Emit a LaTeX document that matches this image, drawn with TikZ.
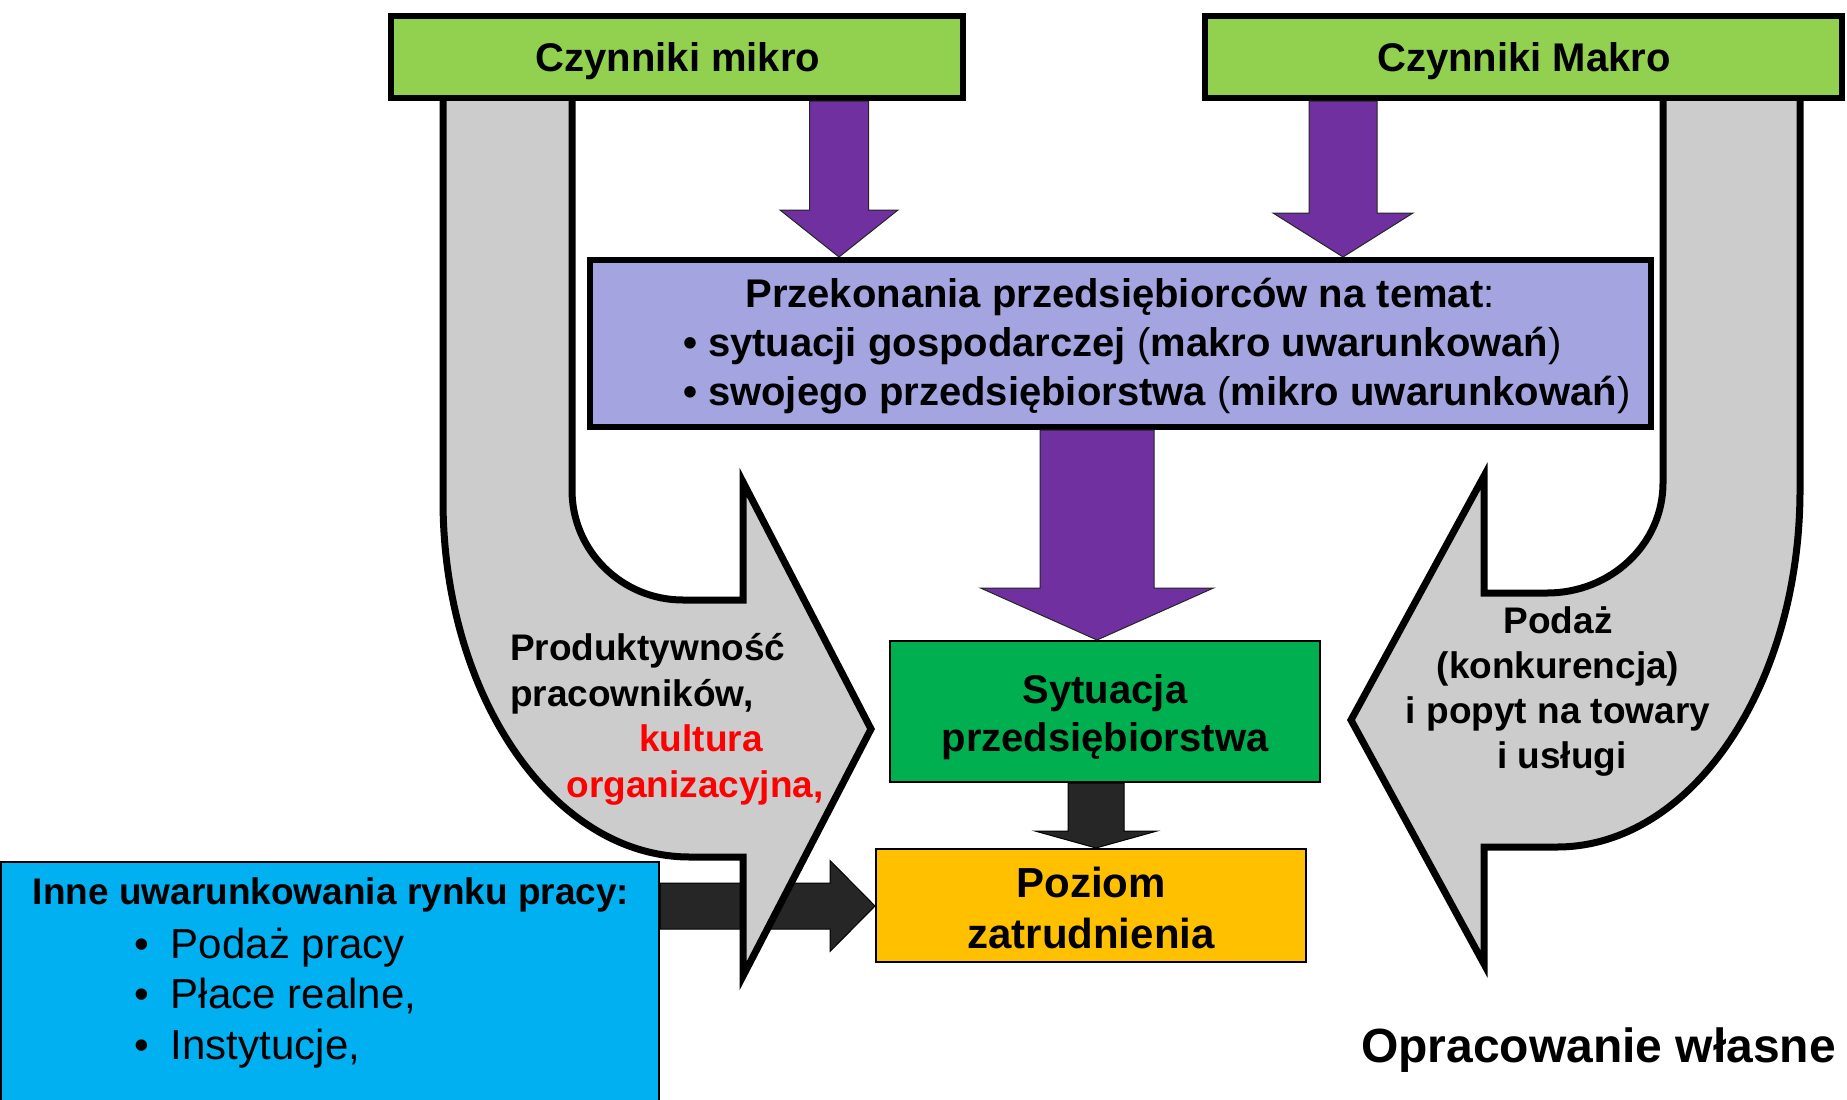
\documentclass[tikz,border=0pt]{standalone}
\usepackage{fontspec}
\setmainfont{Liberation Sans}
\usetikzlibrary{calc}
\definecolor{lgreen}{RGB}{146,208,80}
\definecolor{lav}{RGB}{164,164,224}
\definecolor{purp}{RGB}{112,48,160}
\definecolor{dgreen}{RGB}{0,176,80}
\definecolor{gold}{RGB}{255,192,0}
\definecolor{sky}{RGB}{0,176,240}
\definecolor{lgrey}{RGB}{204,204,204}
\definecolor{darkfill}{RGB}{38,38,38}
\definecolor{pured}{RGB}{255,0,0}
\newcommand\fsz[1]{\fontsize{#1}{#1}\selectfont}
% vertical block arrow: style, start, tip, half shaft, half head, head length
\newcommand\vblock[6]{\path[#1] ($(#2)+(-#4,0)$) -- ($(#3)+(-#4,-#6)$) -- ($(#3)+(-#5,-#6)$) -- (#3) -- ($(#3)+(#5,-#6)$) -- ($(#3)+(#4,-#6)$) -- ($(#2)+(#4,0)$) -- cycle;}
% horizontal block arrow (pointing right)
\newcommand\hblock[6]{\path[#1] ($(#2)+(0,-#4)$) -- ($(#3)+(-#6,-#4)$) -- ($(#3)+(-#6,-#5)$) -- (#3) -- ($(#3)+(-#6,#5)$) -- ($(#3)+(-#6,#4)$) -- ($(#2)+(0,#4)$) -- cycle;}
\tikzset{
  greenbox/.style={draw=black, fill=lgreen, line width=6pt, inner sep=0pt},
  lavbox/.style={draw=black, fill=lav, line width=6pt, inner sep=0pt},
  thinbox/.style={draw=black, line width=2pt, inner sep=0pt},
  purparrow/.style={fill=purp, draw=black!85, line width=1pt, line join=miter},
  darkarrow/.style={fill=darkfill, draw=black, line width=1pt, line join=miter},
  greyarrow/.style={fill=lgrey, draw=black, line width=7pt, line join=miter},
  lbl/.style={inner sep=0pt, outer sep=0pt},
  bold/.style={font=\bfseries\fsz{#1}},
  plain/.style={font=\fsz{#1}}
}
\begin{document}
\begin{tikzpicture}[x=1pt,y=-1pt]
\useasboundingbox (0,0) rectangle (1847,1100);
\fill[white] (0,0) rectangle (1847,1100);

% boxes that lie below the connectors
\node[thinbox, fill=sky, minimum width=658pt, minimum height=240pt] (blue) at (330,982) {};
\node[thinbox, fill=gold, minimum width=430pt, minimum height=113pt] (poz) at (1091,905.5) {};
\node[thinbox, fill=dgreen, minimum width=430pt, minimum height=141pt] (syt) at (1105,711.5) {};
\node[lavbox, minimum width=1061pt, minimum height=167pt] (przek) at (1120.5,343.5) {};

% helper coordinates for arrow axes
\coordinate (c1) at (839,0);
\coordinate (c2) at (1343,0);
\coordinate (c3) at (1097,0);
\coordinate (c4) at (1096,0);
\coordinate (c5) at (0,906);

% dark horizontal arrow (under the grey arrow)
\hblock{darkarrow}{blue.east |- c5}{poz.west |- c5}{23}{45.5}{45}

% grey U-turn arrows
\path[greyarrow] (443,95) -- (443,500) .. controls (443,697) and (554,857) .. (690,857)
  -- (743,857) -- (743,976) -- (871,729) -- (743,482) -- (743,600) -- (683,600)
  .. controls (622,600) and (572,551) .. (572,490) -- (572,95) -- cycle;
\path[greyarrow] (1800,95) -- (1800,490) .. controls (1800,687) and (1691,847) .. (1557,847)
  -- (1484,847) -- (1484,964) -- (1351,720) -- (1484,476) -- (1484,593) -- (1547,593)
  .. controls (1611,593) and (1663,544) .. (1663,483) -- (1663,95) -- cycle;

% green top boxes
\node[greenbox, minimum width=572pt, minimum height=82pt] (mikro) at (677,57) {};
\node[greenbox, minimum width=637pt, minimum height=82pt] (makro) at (1523.5,57) {};

% purple and dark vertical arrows
\vblock{purparrow}{mikro.south -| c1}{przek.north -| c1}{29.5}{59}{47}
\vblock{purparrow}{makro.south -| c2}{przek.north -| c2}{34}{70}{44}
\vblock{purparrow}{przek.south -| c3}{syt.north -| c3}{57}{116.5}{52}
\vblock{darkarrow}{syt.south -| c4}{poz.north -| c4}{28}{61}{17}

% texts
\node[lbl, bold=40, anchor=base] (tmikro) at (678,71) {Czynniki mikro};
\node[lbl, bold=40, anchor=base] (tmakro) at (1524,71) {Czynniki Makro};

\node[lbl, bold=40, anchor=base] (tp1) at (1120,307) {Przekonania przedsiębiorców na temat{\mdseries :}};
\node[lbl, bold=40, anchor=base west] (tp2) at (683,356) {• sytuacji gospodarczej {\mdseries (}makro uwarunkowań{\mdseries )}};
\node[lbl, bold=40, anchor=base west] (tp3) at (683,405) {• swojego przedsiębiorstwa {\mdseries (}mikro uwarunkowań{\mdseries )}};

\node[lbl, bold=40, anchor=base] (ts1) at (1105,703) {Sytuacja};
\node[lbl, bold=40, anchor=base] (ts2) at (1105,751) {przedsiębiorstwa};

\node[lbl, bold=42, anchor=base] (tz1) at (1091,897) {Poziom};
\node[lbl, bold=42, anchor=base] (tz2) at (1091,948) {zatrudnienia};

\node[lbl, bold=37, anchor=base west] (tl1) at (510,660) {Produktywność};
\node[lbl, bold=37, anchor=base west] (tl2) at (510,706) {pracowników,};
\node[lbl, bold=37, anchor=base, text=pured] (tl3) at (701,751) {kultura};
\node[lbl, bold=37, anchor=base, text=pured] (tl4) at (695,797) {organizacyjna,};

\node[lbl, bold=37, anchor=base] (tr1) at (1558,633) {Podaż};
\node[lbl, bold=37, anchor=base] (tr2) at (1558,678) {(konkurencja)};
\node[lbl, bold=37, anchor=base] (tr3) at (1558,723) {i popyt na towary};
\node[lbl, bold=37, anchor=base] (tr4) at (1562,768) {i usługi};

\node[lbl, bold=37, anchor=base] (tb0) at (331,904) {Inne uwarunkowania rynku pracy:};
\node[lbl, plain=42, anchor=base west] (tb1) at (134,958) {\makebox[37pt][l]{•}Podaż pracy};
\node[lbl, plain=42, anchor=base west] (tb2) at (134,1008) {\makebox[37pt][l]{•}Płace realne,};
\node[lbl, plain=42, anchor=base west] (tb3) at (134,1059) {\makebox[37pt][l]{•}Instytucje,};

\node[lbl, bold=48, anchor=base west] (src) at (1361,1062) {Opracowanie własne};
\end{tikzpicture}
\end{document}
